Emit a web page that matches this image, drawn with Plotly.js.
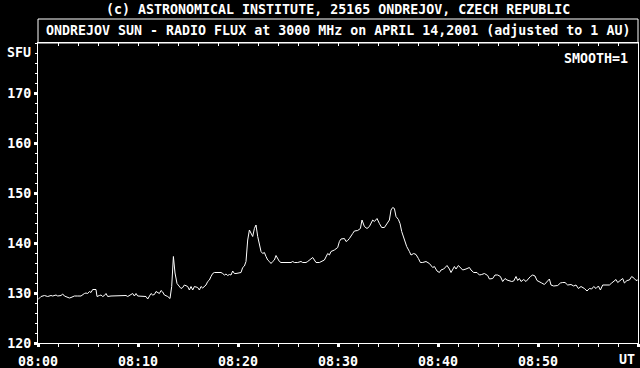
<!DOCTYPE html>
<html>
<head>
<meta charset="utf-8">
<script src="https://cdn.plot.ly/plotly-3.0.1.min.js"></script>
<style>
html,body{margin:0;padding:0;background:#000;}
#chart{width:640px;height:368px;}
</style>
</head>
<body>
<div id="chart"></div>
<script>
// time in minutes after 08:00 UT
const minutes = [
0,0.3,0.64,0.97,1.3,1.47,1.8,1.97,2.3,2.47,2.64,2.97,3.14,3.3,3.64,3.97,4.3,4.64,4.8,4.97,
5.14,5.3,5.47,5.8,5.9,6.14,6.3,6.47,6.64,6.8,6.97,7.3,7.64,8.0,8.3,8.64,8.8,8.97,9.3,9.47,
9.64,9.8,9.97,10.3,10.64,10.8,10.97,11.14,11.3,11.47,11.64,11.8,11.97,12.14,12.3,12.47,12.64,12.97,13.2,13.37,
13.54,13.7,13.9,14.14,14.3,14.47,14.64,
14.97,15.14,15.3,15.47,15.64,15.97,16.14,16.3,16.47,16.64,16.8,16.97,17.14,17.3,17.47,17.64,17.97,18.3,18.47,18.64,
18.8,18.97,19.14,19.3,19.47,19.64,19.8,20.14,20.3,20.47,20.64,20.8,20.97,21.14,21.3,21.47,21.64,21.8,21.97,22.14,
22.3,22.47,22.64,22.8,22.97,23.14,23.3,23.47,23.64,23.8,23.97,24.14,24.3,24.64,24.97,25.3,25.47,25.64,25.97,26.3,
26.47,26.8,26.97,27.3,27.47,27.64,27.8,28.14,28.3,28.64,28.97,29.14,29.3,29.64,
29.97,30.14,30.3,30.64,30.8,30.97,31.14,31.3,31.47,31.64,31.97,32.24,32.4,32.64,32.9,33.14,33.3,33.47,33.64,33.9,
34.14,34.37,34.64,34.9,35.14,35.3,35.47,35.64,35.8,36.04,36.2,36.37,36.54,36.7,36.87,37.14,37.3,37.57,37.8,38.04,
38.24,38.47,38.8,39.14,39.3,39.47,39.64,39.9,40.14,40.3,40.57,40.7,40.9,41.14,41.3,41.64,41.8,42.04,42.24,42.47,
42.8,43.14,43.3,43.57,43.9,44.14,44.37,44.64,
44.97,45.14,45.47,45.7,45.97,46.24,46.47,46.7,46.9,47.14,47.37,47.57,47.8,47.97,48.14,48.3,48.57,48.8,48.97,49.24,
49.47,49.7,49.9,50.14,50.37,50.64,50.8,50.97,51.14,51.3,51.57,51.97,52.24,52.47,52.7,52.97,53.3,53.57,53.8,54.04,
54.3,54.64,54.9,55.14,55.37,55.57,55.8,56.04,56.24,56.47,56.8,57.14,57.37,57.57,57.8,57.97,58.14,58.3,58.47,58.64,
58.9,59.14,59.37,59.64,59.8,59.97
];
// radio flux in SFU
const flux = [
128.7,129.3,129.5,129.3,129.5,129.4,129.6,129.4,129.5,129.8,129.4,129.1,129.0,129.1,129.4,129.4,129.4,129.9,130.0,129.9,
130.3,130.1,130.7,130.7,129.3,129.5,129.6,129.3,129.5,129.9,129.3,129.4,129.4,129.4,129.4,129.4,129.5,129.3,129.6,129.9,
129.4,129.9,129.4,129.4,129.4,129.3,128.8,129.4,129.9,129.6,129.7,130.3,130.0,129.9,130.5,130.2,129.6,129.3,128.9,131.3,
137.3,134.0,131.9,131.3,130.9,131.1,131.6,
131.3,130.6,131.3,130.6,131.3,131.1,130.6,131.3,131.0,131.4,131.6,132.3,132.6,133.3,133.9,134.1,134.1,134.1,133.9,133.6,
133.8,133.5,133.7,133.6,134.4,133.9,133.9,134.1,134.1,135.1,135.4,136.3,140.6,142.6,141.9,141.3,142.9,143.6,141.3,139.3,
138.3,137.9,138.1,137.3,136.6,136.3,135.9,136.3,136.6,137.5,136.9,136.3,136.1,136.1,136.1,136.1,136.3,136.1,136.1,136.3,
136.1,136.1,136.3,136.9,137.1,136.6,136.1,136.1,136.3,136.6,137.9,137.6,138.3,138.6,
139.1,140.3,140.8,140.9,140.3,140.5,140.9,141.3,141.9,142.4,142.5,142.9,144.6,143.3,142.9,143.3,143.9,144.6,144.3,144.9,
143.9,143.1,143.1,143.9,144.6,146.6,147.1,146.9,145.3,144.7,143.9,142.3,141.3,140.3,139.3,138.3,137.6,137.9,137.7,136.9,
136.1,136.1,136.3,135.9,135.6,135.1,135.3,134.4,134.1,134.6,134.8,135.1,135.5,134.8,134.1,135.3,134.8,135.5,135.1,134.6,
134.8,135.1,134.6,134.1,134.1,133.6,133.7,133.9,
133.5,132.8,132.9,133.6,133.6,133.3,132.3,132.9,132.6,132.5,132.3,132.4,133.3,132.5,132.9,132.3,132.7,132.3,132.7,133.3,
133.6,133.4,132.5,132.3,132.0,131.7,132.1,132.6,132.8,131.6,131.4,131.5,132.0,132.1,132.1,131.6,131.7,131.4,131.6,130.9,
131.3,130.9,130.4,130.9,130.8,131.3,130.9,131.4,130.6,131.6,131.6,131.6,132.0,132.3,132.7,132.1,132.4,132.6,132.9,132.0,
132.5,132.6,133.3,132.9,132.5,132.6
];
const tickMinutes = [0,10,20,30,40,50,60];
const tickLabels = ["08:00","08:10","08:20","08:30","08:40","08:50",""];
const yTicks = [120,130,140,150,160,170];

const mainTitle = "(c) ASTRONOMICAL INSTITUTE, 25165 ONDREJOV, CZECH REPUBLIC";
const plotTitle = "ONDREJOV SUN - RADIO FLUX at 3000 MHz on APRIL 14,2001 (adjusted to 1 AU)";

const FONT = {family:"DejaVu Sans Mono", size:13.3, color:"#fff", weight:"bold"};

const traces = [
  {x: minutes, y: flux, type:"scatter", mode:"lines", line:{color:"#fff", width:1}, hoverinfo:"skip"},
  {x: [0,60], y:[120,120], xaxis:"x2", type:"scatter", mode:"lines", line:{color:"rgba(0,0,0,0)", width:0}, hoverinfo:"skip"}
];

const layout = {
  width:640, height:368,
  paper_bgcolor:"#000", plot_bgcolor:"#000",
  margin:{l:38, r:2, t:43, b:25, pad:0},
  showlegend:false,
  font: FONT,
  xaxis:{
    range:[0,60], tickvals: tickMinutes, ticktext: tickLabels,
    showgrid:false, zeroline:false,
    showline:true, linecolor:"#fff", linewidth:1, mirror:true,
    ticks:"outside", ticklen:3, tickwidth:3, tickcolor:"#fff",
    ticklabelstandoff:3,
    minor:{dtick:2, ticks:"outside", ticklen:3, tickwidth:1, tickcolor:"#fff", showgrid:false},
    tickfont: FONT, fixedrange:true
  },
  xaxis2:{
    range:[0,60], overlaying:"x", side:"top", dtick:2, tick0:0,
    ticks:"inside", ticklen:3, tickwidth:1, tickcolor:"#fff",
    showticklabels:false, showgrid:false, zeroline:false, showline:false
  },
  yaxis:{
    range:[120,180], tickvals: yTicks,
    showgrid:false, zeroline:false,
    showline:true, linecolor:"#fff", linewidth:1, mirror:true,
    ticks:"outside", ticklen:3, tickwidth:3, tickcolor:"#fff",
    minor:{dtick:2, ticks:"outside", ticklen:2, tickwidth:1, tickcolor:"#fff", showgrid:false},
    tickfont: FONT, fixedrange:true
  },
  shapes:[
    {type:"rect", xref:"paper", yref:"paper", x0:0, x1:1, y0:1, y1:1.08,
     line:{color:"#fff", width:1}, fillcolor:"rgba(0,0,0,0)"}
  ],
  annotations:[
    {text: mainTitle, xref:"paper", yref:"paper", x:0.5, y:1.1133, xanchor:"center", yanchor:"middle", showarrow:false, font:FONT},
    {text: plotTitle, xref:"paper", yref:"paper", x:0.5, y:1.04, xanchor:"center", yanchor:"middle", showarrow:false, font:FONT},
    {text: "SMOOTH=1", xref:"paper", yref:"paper", x:0.9867, y:0.95, xanchor:"right", yanchor:"middle", showarrow:false, font:FONT},
    {text: "SFU", xref:"paper", yref:"paper", x:-0.0083, y:0.967, xanchor:"right", yanchor:"middle", showarrow:false, font:FONT},
    {text: "UT", xref:"paper", yref:"paper", x:0.9983, y:-0.055, xanchor:"right", yanchor:"middle", showarrow:false, font:FONT}
  ]
};

Plotly.newPlot("chart", traces, layout, {staticPlot:true, displayModeBar:false});
</script>
</body>
</html>
